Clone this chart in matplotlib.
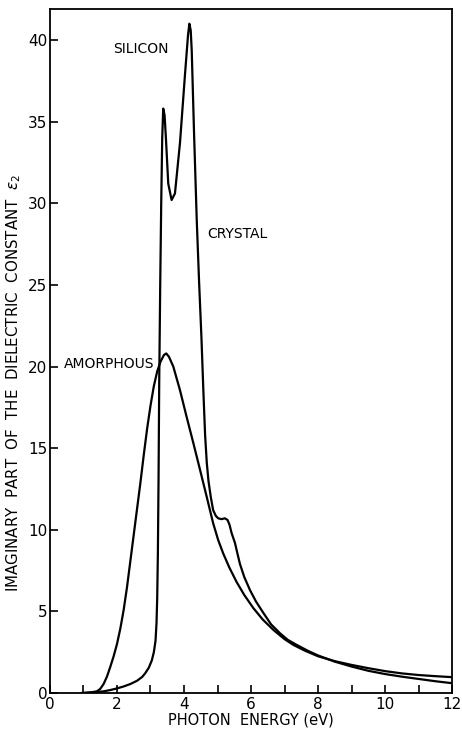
import matplotlib
matplotlib.use("Agg")
import matplotlib.pyplot as plt
from matplotlib.ticker import FixedLocator

plt.rcParams['font.family'] = ['DejaVu Sans']

# Imaginary part of the dielectric constant of silicon
crystal_E = [1.0, 1.3, 1.6, 1.8, 2.0, 2.2, 2.4, 2.6, 2.75, 2.84, 2.95, 3.04, 3.1,
             3.15, 3.18, 3.2, 3.22, 3.24, 3.26, 3.29, 3.32, 3.35, 3.38, 3.42, 3.46,
             3.53, 3.63, 3.73, 3.88, 4.03, 4.12, 4.16, 4.2, 4.23, 4.30, 4.38,
             4.45, 4.52, 4.58, 4.63, 4.68, 4.73, 4.8, 4.87, 4.95, 5.02, 5.12,
             5.22, 5.3, 5.36, 5.42, 5.52, 5.6, 5.67, 5.8, 5.97, 6.15, 6.37, 6.6,
             6.87, 7.1, 7.36, 7.7, 8.0, 8.5, 9.0, 9.5, 10.0, 10.5, 11.0, 11.5,
             12.0]
crystal_eps2 = [0.0, 0.04, 0.1, 0.18, 0.28, 0.4, 0.55, 0.75, 0.98, 1.2, 1.55, 2.0, 2.5,
                3.2, 4.3, 5.8, 8.5, 13.0, 19.0, 25.0, 30.0, 34.0, 35.8, 35.4, 34.0,
                31.2, 30.2, 30.6, 33.7, 37.9, 40.3, 41.0, 40.6, 39.4, 34.3, 29.0,
                25.2, 21.8, 18.4, 15.8, 14.1, 13.0, 12.0, 11.2, 10.85, 10.7, 10.65,
                10.7, 10.6, 10.3, 9.8, 9.2, 8.5, 7.9, 7.1, 6.3, 5.6, 4.9, 4.2,
                3.65, 3.25, 2.95, 2.58, 2.3, 1.92, 1.62, 1.36, 1.16, 1.0, 0.86, 0.72,
                0.6]

amorph_E = [0.95, 1.2, 1.4, 1.5, 1.6, 1.7, 1.8, 1.9, 2.0, 2.1, 2.2, 2.3, 2.4,
            2.5, 2.6, 2.7, 2.8, 2.9, 3.0, 3.1, 3.2, 3.3, 3.4, 3.47, 3.55, 3.68,
            3.88, 4.08, 4.28, 4.48, 4.68, 4.87, 5.02, 5.17, 5.35, 5.57, 5.8,
            6.07, 6.35, 6.67, 7.0, 7.26, 7.6, 8.0, 8.5, 9.0, 9.5, 10.0, 10.5,
            11.0, 11.5, 12.0]
amorph_eps2 = [0.0, 0.03, 0.1, 0.25, 0.55, 1.0, 1.6, 2.25, 3.0, 3.95, 5.1, 6.5, 8.1,
               9.7, 11.3, 12.9, 14.6, 16.2, 17.6, 18.8, 19.7, 20.3, 20.7, 20.8, 20.6, 20.0,
               18.55, 16.9, 15.3, 13.66, 12.0, 10.4, 9.37, 8.55, 7.7, 6.8, 6.0,
               5.2, 4.5, 3.86, 3.3, 2.95, 2.6, 2.25, 1.95, 1.72, 1.52, 1.34, 1.2,
               1.1, 1.03, 0.97]

x_tick_values = list(range(0, 13))
x_tick_labels = ["0", "", "2", "", "4", "", "6", "", "8", "", "10", "", "12"]
y_tick_values = [0, 5, 10, 15, 20, 25, 30, 35, 40]

fig = plt.figure(figsize=(4.62, 7.33), dpi=100)
ax = fig.add_axes([0.1082, 0.0546, 0.8702, 0.9331])

ax.plot(crystal_E, crystal_eps2, color='black', lw=1.6, solid_joinstyle='round')
ax.plot(amorph_E, amorph_eps2, color='black', lw=1.6, solid_joinstyle='round')

ax.set_xlim(0, 12)
ax.set_ylim(0, 41.9)

ax.xaxis.set_major_locator(FixedLocator(x_tick_values))
ax.set_xticklabels(x_tick_labels)
ax.yaxis.set_major_locator(FixedLocator(y_tick_values))
ax.set_yticklabels([str(v) for v in y_tick_values])

ax.tick_params(axis='x', direction='in', length=6, width=1.2, labelsize=11, pad=3)
ax.tick_params(axis='y', direction='in', length=6, width=1.2, labelsize=11, pad=2)

for sp in ax.spines.values():
    sp.set_linewidth(1.3)

ax.set_xlabel("PHOTON  ENERGY (eV)", fontsize=10.5, labelpad=0)
ax.set_ylabel(r"IMAGINARY  PART  OF  THE  DIELECTRIC  CONSTANT  $\epsilon_2$",
              fontsize=10.8)
ax.yaxis.set_label_coords(-0.068, 0.453)

ax.text(1.88, 39.45, "SILICON", fontsize=10, ha='left', va='center')
ax.text(4.70, 28.1, "CRYSTAL", fontsize=10, ha='left', va='center')
ax.text(0.42, 20.15, "AMORPHOUS", fontsize=10, ha='left', va='center')

fig.savefig("out.png", dpi=100)
